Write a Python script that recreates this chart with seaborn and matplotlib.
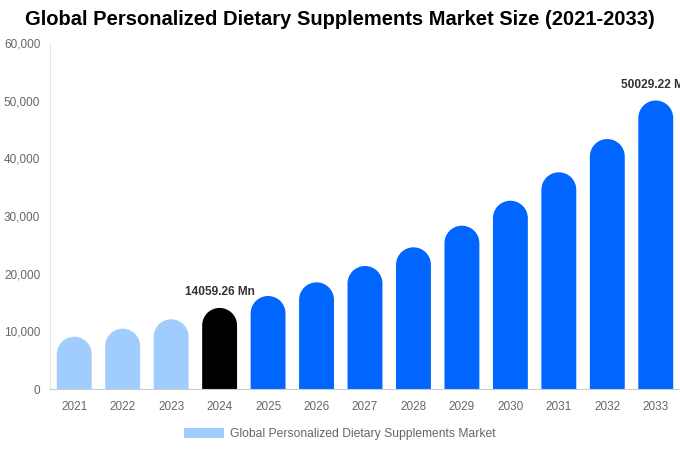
import numpy as np
import pandas as pd
import seaborn as sns
import matplotlib.pyplot as plt
from matplotlib.path import Path
from matplotlib.patches import PathPatch, Patch
from matplotlib.ticker import FuncFormatter

years = ["2021", "2022", "2023", "2024", "2025", "2026", "2027",
         "2028", "2029", "2030", "2031", "2032", "2033"]
market_size = [9070, 10460, 12090, 14059.26, 16130, 18500, 21330,
               24570, 28320, 32650, 37580, 43350, 50029.22]
bar_colors = ["#a0cdfd"] * 3 + ["#000000"] + ["#0066ff"] * 9
labeled = {"2024": "14059.26 Mn", "2033": "50029.22 Mn"}

df = pd.DataFrame({"year": years, "value": market_size})

sns.set_theme(style="white")
plt.rcParams['font.family'] = ['Liberation Sans', 'DejaVu Sans']

fig = plt.figure(figsize=(6.8, 4.5), dpi=100)
ax = fig.add_axes([50 / 680, 1 - 389 / 450, 630 / 680, 346 / 450])

sns.barplot(data=df, x="year", y="value", hue="year", palette=bar_colors,
            legend=False, width=0.72, ax=ax, saturation=1)

ax.set_xlim(-0.5, 12.5)
ax.set_ylim(0, 60000)

# round tops: one path per bar, half ellipse that looks circular on screen
aspect = (60000 / 346) / (13 / 630)
for p in list(ax.patches):
    x0, w, h = p.get_x(), p.get_width(), p.get_height()
    rx = w / 2
    ry = rx * aspect
    fc = p.get_facecolor()
    p.set_visible(False)
    arc = Path.arc(0, 180)
    verts = arc.vertices * [rx, ry] + [x0 + rx, h - ry]
    verts = np.vstack([[x0 + w, 0], verts, [x0, 0], [x0 + w, 0]])
    codes = ([Path.MOVETO, Path.LINETO] + list(arc.codes[1:])
             + [Path.LINETO, Path.CLOSEPOLY])
    ax.add_patch(PathPatch(Path(verts, codes), facecolor=fc, edgecolor="none"))

for i, (yr, val) in enumerate(zip(years, market_size)):
    if yr in labeled:
        ax.annotate(labeled[yr], (i, val), xytext=(0, 7),
                    textcoords="offset points", ha="center", va="bottom",
                    fontsize=8.6, fontweight="bold", color="#333333",
                    annotation_clip=False)

ax.yaxis.set_major_formatter(FuncFormatter(lambda v, _: f"{int(v):,}"))
ax.set_yticks(np.arange(0, 60001, 10000))
ax.tick_params(axis="both", length=0, labelsize=8.5, labelcolor="#666666")
ax.tick_params(axis="x", pad=9)
ax.tick_params(axis="y", pad=7)
ax.set_xlabel("")
ax.set_ylabel("")
for s in ["top", "right"]:
    ax.spines[s].set_visible(False)
ax.spines["left"].set_color("#e6e6e6")
ax.spines["bottom"].set_color("#cccccc")
ax.spines["left"].set_linewidth(0.8)
ax.spines["bottom"].set_linewidth(0.8)

fig.suptitle("Global Personalized Dietary Supplements Market Size (2021-2033)",
             x=340 / 680, y=1 - 10 / 450, va="top", fontsize=14.5,
             fontweight="bold", color="#000000")

fig.legend(handles=[Patch(facecolor="#a0cdfd", edgecolor="none",
                          label="Global Personalized Dietary Supplements Market")],
           loc="center", bbox_to_anchor=(340 / 680, 1 - 434 / 450),
           frameon=False, fontsize=8.7, labelcolor="#666666",
           handlelength=3.3, handleheight=0.9, handletextpad=0.5)

fig.savefig("out.png", dpi=100)
